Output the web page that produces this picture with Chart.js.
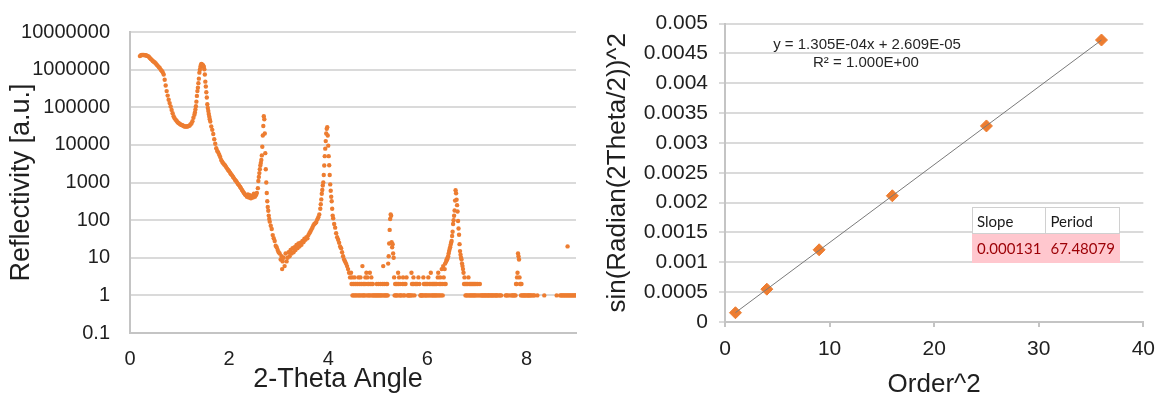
<!DOCTYPE html>
<html>
<head>
<meta charset="utf-8">
<script src="https://cdn.jsdelivr.net/npm/chart.js@4.4.1/dist/chart.umd.min.js"></script>
<style>
html,body{margin:0;padding:0;background:#fff;}
#wrap{position:relative;width:1165px;height:402px;overflow:hidden;background:#fff;}
#wrap canvas{position:absolute;top:0;}
#cL{left:0;}
#cR{left:600px;}
.eq{position:absolute;font-family:"Liberation Sans",Arial,sans-serif;font-size:15px;color:#262626;white-space:nowrap;transform:translate(-50%,-50%);line-height:1;}
#tbl{position:absolute;left:972px;top:207px;border-collapse:collapse;font-family:Lato,"Open Sans",sans-serif;font-size:15px;table-layout:fixed;}
#tbl td{padding:0 4px;overflow:hidden;white-space:nowrap;}
#tbl tr.h td{height:25px;background:#fff;border:1px solid #d0d0d0;color:#1a1a1a;text-align:left;}
#tbl tr.v td{height:28px;background:#ffc7ce;color:#9c0006;text-align:right;border:1px solid #ffc7ce;}
</style>
</head>
<body>
<div id="wrap">
  <canvas id="cL" width="600" height="402"></canvas>
  <canvas id="cR" width="565" height="402"></canvas>
  <div class="eq" id="eq1"></div>
  <div class="eq" id="eq2"></div>
  <table id="tbl">
    <colgroup><col style="width:71px"><col style="width:73px"></colgroup>
    <tr class="h"><td id="h1"></td><td id="h2"></td></tr>
    <tr class="v"><td id="v1"></td><td id="v2"></td></tr>
  </table>
</div>
<script>
// ---------- Left chart: reflectivity scan ----------
const angleA = [0.20,0.22,0.24,0.26,0.28,0.30,0.32,0.34,0.36,0.38,0.40,0.42,0.44,0.46,0.48,0.50,0.52,0.54,0.56,0.58,0.60,0.62,0.64,0.66,0.68,0.70,0.72,0.74,0.76,0.78,0.80,0.82,0.84,0.86,0.88,0.90,0.92,0.94,0.96,0.98,1.00,1.02,1.04,1.06,1.08,1.10,1.12,1.14,1.16,1.18,1.20,1.22,1.24,1.26,1.28,1.30,1.31,1.32,1.33,1.34,1.35,1.36,1.37,1.38,1.39,1.40,1.41,1.42,1.43,1.44,1.45,1.46,1.47,1.48,1.49,1.50,1.51,1.52,1.53,1.54,1.55,1.56,1.57,1.58,1.59,1.60,1.61,1.62,1.64,1.66,1.68,1.70,1.72,1.74,1.76,1.78,1.80,1.82,1.84,1.86,1.88,1.90,1.92,1.94,1.96,1.98,2.00,2.02,2.04,2.06,2.08,2.10,2.12,2.14,2.16,2.18,2.20,2.22,2.24,2.26,2.28,2.30,2.32,2.34,2.36,2.38,2.40,2.42,2.44,2.46,2.48,2.50,2.52,2.54,2.56,2.58];
const countsA = [2290000,2400000,2450000,2450000,2450000,2400000,2400000,2340000,2290000,2190000,2040000,1910000,1820000,1700000,1620000,1550000,1450000,1350000,1260000,1170000,1100000,1000000,933000,851000,741000,537000,380000,269000,204000,158000,129000,105000,85100,69200,57500,51300,46800,43700,39800,38000,36300,34700,33900,33100,31600,30900,30900,30900,30900,31600,32400,34700,37200,42700,52500,63100,72400,87100,107000,141000,200000,269000,331000,437000,575000,832000,1000000,1170000,1320000,1410000,1380000,1350000,1320000,1260000,1170000,1020000,741000,479000,355000,251000,182000,120000,95500,79400,66100,56200,47900,41700,30900,25100,19500,14100,10700,8130,6920,6310,5500,4790,3980,3550,3240,3020,2820,2570,2340,2140,2000,1820,1660,1550,1410,1290,1170,1100,1000,912,851,776,708,631,575,525,479,457,417,479,398,457,380,437,398,501,417,457,525,708];

const angleB = [2.59,2.60,2.61,2.62,2.63,2.64,2.65,2.66,2.67,2.68,2.69,2.70,2.71,2.72,2.73,2.74,2.75,2.76,2.77,2.78,2.79,2.80,2.81,2.82,2.84,2.86,2.88,2.90,2.92,2.94,2.96,2.98,3.00,3.02,3.04,3.06,3.07,3.08,3.10,3.12,3.14,3.16,3.18,3.20,3.22,3.24,3.26,3.28,3.30,3.32,3.34,3.36,3.38,3.40,3.42,3.44,3.46,3.48,3.50,3.52,3.54,3.56,3.58,3.60,3.62,3.64,3.66,3.68,3.70,3.72,3.74,3.76,3.78,3.80,3.82,3.84,3.85,3.86,3.87,3.88,3.89,3.90,3.91,3.92,3.93,3.94,3.95,3.96,3.97,3.98,3.99,4.00,4.01,4.02,4.03,4.04,4.05,4.06,4.07,4.08,4.09,4.10,4.12,4.14,4.16,4.18,4.20,4.22,4.24,4.26,4.28,4.30,4.32,4.34,4.36,4.38,4.40,4.42,4.44,4.46,4.47,4.48];
const countsB = [1100,1410,1780,2240,2820,3310,3980,5250,8910,17800,31600,57500,47900,20000,6030,2240,1000,525,316,224,178,132,107,91,71,58,40,33,28,21,19,16,14,13,9,11,5,8,10,6,13,8,10,14,11,16,13,18,14,19,16,22,18,24,20,25,22,28,26,32,30,35,33,40,45,50,56,63,72,79,83,89,105,120,141,200,263,355,501,631,832,1000,1580,2820,5010,7940,12600,20000,26900,29500,17800,9550,5010,2880,1580,891,603,417,316,200,132,112,79,63,45,35,30,25,20,18,14,11,9,8,7,6,5,4,3,4,2,3];

const angleC = [4.49,4.50,4.51,4.52,4.53,4.54,4.55,4.56,4.58,4.59,4.60,4.61,4.62,4.63,4.64,4.65,4.66,4.67,4.68,4.69,4.70,4.71,4.72,4.73,4.74,4.75,4.76,4.77,4.78,4.79,4.80,4.81,4.82,4.83,4.84,4.85,4.86,4.87,4.88,4.89,4.90,4.91,4.93,4.95,4.97,4.98,4.99,5.01,5.02,5.03,5.05,5.06,5.07,5.09,5.10,5.11,5.12,5.13,5.14,5.16,5.17,5.18,5.19,5.20,5.21,5.22,5.23,5.24,5.25,5.26,5.27,5.28,5.29,5.30,5.31,5.32,5.33,5.34,5.35,5.36,5.37,5.38,5.39,5.40,5.41,5.42,5.43,5.44,5.45,5.46,5.48,5.50,5.51,5.52,5.53,5.54,5.56,5.58,5.60,5.62,5.63,5.65,5.67,5.68,5.69,5.70,5.71,5.72,5.73,5.74,5.76,5.78,5.80,5.82,5.84,5.86,5.87,5.88,5.90,5.91,5.92,5.93,5.94,5.95,5.96,5.97,5.98,5.99,6.00,6.01,6.02,6.03,6.04,6.05,6.06,6.07,6.08,6.09,6.10,6.11,6.12,6.13,6.14,6.15,6.16,6.17,6.18,6.19,6.20,6.21,6.22,6.23,6.24,6.25,6.26,6.27,6.28,6.29,6.30,6.31,6.32,6.33,6.34,6.35,6.36,6.37,6.38,6.39,6.40,6.41,6.42,6.43,6.44,6.45,6.46,6.47,6.48,6.49,6.50,6.51,6.52,6.53,6.54,6.55,6.56,6.57,6.58,6.59,6.60,6.61,6.62,6.63,6.64,6.65,6.66,6.67,6.68,6.69,6.70,6.71,6.72,6.73,6.74,6.75,6.76,6.77,6.78,6.79,6.80,6.81,6.82,6.83,6.84,6.85,6.86,6.87,6.88,6.89,6.90,6.91,6.92,6.93,6.94,6.95,6.96,6.97,6.98,7.00,7.01,7.02,7.04,7.06,7.07,7.09,7.11,7.12,7.14,7.16,7.17,7.19,7.21,7.23,7.24,7.26,7.28,7.30,7.31,7.33,7.35,7.37,7.39,7.40,7.42,7.45,7.47,7.49,7.58,7.60,7.62,7.66,7.70,7.72,7.74,7.76,7.78,7.79,7.80,7.81,7.82,7.83,7.84,7.85,7.86,7.87,7.88,7.89,7.90,7.91,7.93,7.95,7.96,7.98,8.00,8.02,8.04,8.05,8.07,8.09,8.11,8.14,8.16,8.22,8.36,8.61,8.68,8.70,8.72,8.74,8.76,8.78,8.80,8.82,8.83,8.84,8.86,8.88,8.90,8.92,8.94,8.96,8.98,9.00];
const countsC = [1,2,1,2,3,1,2,1,2,1,2,3,1,2,1,3,2,1,2,6,1,2,1,2,1,3,2,4,1,3,2,1,2,1,4,2,1,3,2,1,2,1,1,1,1,2,1,1,2,1,1,2,1,1,2,6,1,2,1,1,2,1,2,1,7,11,24,55,107,141,131,26,19,23,13,10,3,1,2,1,2,1,2,1,4,2,3,1,2,1,1,2,3,1,2,1,2,3,1,1,1,1,1,4,2,1,2,3,2,1,2,2,2,3,2,1,1,1,1,1,3,2,1,2,1,2,1,2,1,2,3,1,2,1,2,4,1,2,1,2,1,2,1,2,1,2,1,2,1,3,4,1,2,1,3,2,1,5,2,1,6,3,2,5,7,2,8,9,9,10,11,13,15,17,19,22,25,28,38,49,79,100,131,180,330,620,520,347,250,170,95,60,41,23,15,12,10,9,7,6,5,4,2,3,2,1,2,1,2,1,2,3,1,2,1,2,1,2,1,2,1,2,1,2,1,2,1,2,1,2,1,2,1,1,1,1,1,1,1,1,1,1,1,1,1,1,1,1,1,1,1,1,1,1,1,1,1,1,1,1,1,1,1,1,1,2,2,3,4,13,11,9,3,2,2,1,2,1,1,1,1,1,1,1,1,1,1,1,1,1,1,1,1,1,1,1,1,1,1,1,1,1,20,1,1,1,1,1,1,1,1,1,1];

const reflTicks = [0.1,1,10,100,1000,10000,100000,1000000,10000000];

// ---------- Right chart: Bragg peak fit ----------
const orderSq = [1,4,9,16,25,36];
const sinSq = [0.000155,0.000550,0.001210,0.002115,0.003285,0.004725];
const trendX = [1,36];
const trendY = [0.000157,0.004724];
const eqLine1 = 'y = 1.305E-04x + 2.609E-05';
const eqLine2 = 'R² = 1.000E+00';
const tableHead = ['Slope','Period'];
const tableVals = ['0.000131','67.48079'];

const orange = '#ED7D31';
const gridColor = '#dadada';
const axisColor = '#c4c4c4';
const textColor = '#1f1f1f';
const FONT = '"Liberation Sans", Arial, sans-serif';

Chart.defaults.font.family = FONT;
Chart.defaults.color = textColor;

function pairs(xs, ys){ return xs.map((x,i)=>({x:x, y:ys[i]})); }

const scanData = pairs(angleA, countsA).concat(pairs(angleB, countsB), pairs(angleC, countsC));

const leftXTitle = {
  id: 'leftXTitle',
  afterDraw(chart){
    const ctx = chart.ctx;
    ctx.save();
    ctx.font = '27px ' + FONT;
    ctx.fillStyle = textColor;
    ctx.textAlign = 'center';
    ctx.textBaseline = 'middle';
    ctx.fillText('2-Theta Angle', 338, 380);
    ctx.restore();
  }
};

new Chart(document.getElementById('cL'), {
  type: 'scatter',
  data: { datasets: [{ data: scanData, pointRadius: 2.2, pointHoverRadius: 2.2, backgroundColor: orange, borderWidth: 0 }] },
  options: {
    responsive: false, animation: false, devicePixelRatio: 1,
    layout: { padding: { top: 15, right: 24, left: 0, bottom: 0 } },
    plugins: { legend: { display: false }, tooltip: { enabled: false } },
    scales: {
      x: {
        type: 'linear', min: 0, max: 9,
        afterFit: s => { s.height = 69; },
        grid: { display: true, drawOnChartArea: false, drawTicks: false, color: axisColor },
        border: { display: true, color: axisColor, width: 2 },
        ticks: { stepSize: 2, includeBounds: false, padding: 14, maxRotation: 0, font: { size: 20 }, color: textColor }
      },
      y: {
        type: 'logarithmic', min: 0.1, max: 10000000,
        afterBuildTicks: s => { s.ticks = reflTicks.map(v => ({ value: v })); },
        afterFit: s => { s.width = 130; },
        grid: { color: gridColor, drawTicks: false, lineWidth: 2 },
        border: { display: true, color: axisColor, width: 2 },
        ticks: { padding: 20, font: { size: 20 }, color: textColor, callback: v => String(v) },
        title: { display: true, text: 'Reflectivity [a.u.]', font: { size: 27 }, color: textColor, padding: { top: 5, bottom: 0 } }
      }
    }
  },
  plugins: [leftXTitle]
});

new Chart(document.getElementById('cR'), {
  type: 'scatter',
  data: { datasets: [
    { type: 'line', data: pairs(trendX, trendY), borderColor: '#7a7a7a', borderWidth: 1, pointRadius: 0, fill: false, order: 0 },
    { data: pairs(orderSq, sinSq), pointStyle: 'rectRot', pointRadius: 6, pointHoverRadius: 6, backgroundColor: orange, borderColor: orange, borderWidth: 1, order: 1 }
  ] },
  options: {
    responsive: false, animation: false, devicePixelRatio: 1,
    layout: { padding: { top: 16, right: 20, left: 0, bottom: 0 } },
    plugins: { legend: { display: false }, tooltip: { enabled: false } },
    scales: {
      x: {
        type: 'linear', min: 0, max: 40,
        afterFit: s => { s.height = 80; },
        grid: { drawOnChartArea: false, drawTicks: true, tickLength: 5, color: axisColor, lineWidth: 2 },
        border: { display: true, color: axisColor, width: 2 },
        ticks: { stepSize: 10, padding: 10, maxRotation: 0, font: { size: 21 }, color: textColor },
        title: { display: true, text: 'Order^2', font: { size: 26 }, color: textColor, padding: { top: 0, bottom: 2 } }
      },
      y: {
        type: 'linear', min: 0, max: 0.005,
        afterFit: s => { s.width = 125; },
        grid: { color: gridColor, drawTicks: true, tickLength: 6, lineWidth: 2 },
        border: { display: true, color: axisColor, width: 2 },
        ticks: { stepSize: 0.0005, padding: 11, font: { size: 21 }, color: textColor, callback: v => String(parseFloat(v.toFixed(4))) },
        title: { display: true, text: 'sin(Radian(2Theta/2))^2', font: { size: 26 }, color: textColor, padding: { top: 2, bottom: 0 } }
      }
    }
  }
});

const e1 = document.getElementById('eq1'); e1.textContent = eqLine1; e1.style.left = '867px'; e1.style.top = '43px';
const e2 = document.getElementById('eq2'); e2.textContent = eqLine2; e2.style.left = '866px'; e2.style.top = '61px';
document.getElementById('h1').textContent = tableHead[0];
document.getElementById('h2').textContent = tableHead[1];
document.getElementById('v1').textContent = tableVals[0];
document.getElementById('v2').textContent = tableVals[1];
</script>
</body>
</html>
